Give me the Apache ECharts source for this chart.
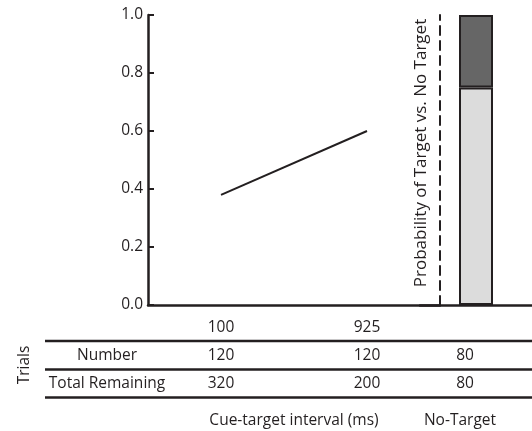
<!DOCTYPE html>
<html>
<head>
<meta charset="utf-8">
<script src="https://cdn.jsdelivr.net/npm/echarts@6/dist/echarts.min.js"></script>
<style>
html,body{margin:0;padding:0;background:#fff;}
#c{width:532px;height:431px;}
</style>
</head>
<body>
<div id="c"></div>
<script>
// ---- data ----
const intervals = ['100', '925'];
const targetProb = [0.38, 0.60];
const noTargetCat = ['No-Target'];
const noTargetLower = [0.75];
const noTargetUpper = [0.25];
const rowLabels = ['Number', 'Total Remaining'];
const numberRow = ['120', '120', '80'];
const remainingRow = ['320', '200', '80'];
const yLabel = 'Probability of Target vs. No Target';
const sideLabel = 'Trials';
const xTitle = 'Cue-target interval (ms)';
const noTargetTitle = 'No-Target';

const FONT = '"Open Sans", sans-serif';
const INK = '#231f20';
const FS = 15.5;

const chart = echarts.init(document.getElementById('c'), null, {renderer: 'canvas'});

const option = {
  animation: false,
  backgroundColor: '#fff',
  textStyle: {fontFamily: FONT, color: INK},
  grid: [
    {left: 148, top: 15, width: 292, height: 290},
    {left: 420, top: 15, width: 112, height: 290}
  ],
  xAxis: [
    {
      gridIndex: 0, type: 'category', data: intervals, boundaryGap: true,
      axisLine: {lineStyle: {color: INK, width: 2.5}},
      axisTick: {inside: true, alignWithLabel: true, length: 6, lineStyle: {color: INK, width: 2}},
      axisLabel: {fontSize: FS, color: INK, margin: 15, fontFamily: FONT},
      splitLine: {show: false}
    },
    {
      gridIndex: 1, type: 'category', data: noTargetCat, boundaryGap: true,
      axisLine: {lineStyle: {color: INK, width: 2.5}},
      axisTick: {show: false},
      axisLabel: {show: false},
      splitLine: {show: false}
    }
  ],
  yAxis: [
    {
      gridIndex: 0, type: 'value', min: 0, max: 1, interval: 0.2,
      axisLine: {show: true, lineStyle: {color: INK, width: 2.5}},
      axisTick: {show: true, inside: true, length: 6, lineStyle: {color: INK, width: 2}},
      axisLabel: {fontSize: FS, color: INK, margin: 5, fontFamily: FONT,
        formatter: v => v.toFixed(1)},
      splitLine: {show: false}
    },
    {
      gridIndex: 0, type: 'value', min: 0, max: 1, position: 'right',
      axisLine: {show: true, lineStyle: {color: INK, width: 2, type: [9, 6]}},
      axisTick: {show: false}, axisLabel: {show: false}, splitLine: {show: false}
    },
    {
      gridIndex: 1, type: 'value', min: 0, max: 1, show: false
    }
  ],
  series: [
    {
      type: 'line', xAxisIndex: 0, yAxisIndex: 0, data: targetProb,
      symbol: 'none', lineStyle: {color: INK, width: 2}, silent: true
    },
    {
      type: 'bar', xAxisIndex: 1, yAxisIndex: 2, stack: 'p', data: noTargetLower,
      barWidth: 34, itemStyle: {color: '#dcdcdc', borderColor: INK, borderWidth: 2}
    },
    {
      type: 'bar', xAxisIndex: 1, yAxisIndex: 2, stack: 'p', data: noTargetUpper,
      barWidth: 34, itemStyle: {color: '#666666', borderColor: INK, borderWidth: 2}
    }
  ]
};
chart.setOption(option);

// ---- table & labels (positions derived from the axes) ----
const colX = [
  chart.convertToPixel({xAxisIndex: 0}, intervals[0]),
  chart.convertToPixel({xAxisIndex: 0}, intervals[1]),
  chart.convertToPixel({xAxisIndex: 1}, noTargetCat[0]) - 11
];
const tableLeft = 45, tableRight = 532;
const lineYs = [341, 369.5, 397.5];
const rowYs = [356, 384];
const bottomY = 421;
const labelColX = 107;

const txt = (s, x, y, extra) => Object.assign({type: 'text', x: x, y: y,
  style: {text: s, font: FS + 'px ' + FONT, fill: INK, textAlign: 'center', textVerticalAlign: 'middle'}}, extra || {});

const g = [];
lineYs.forEach(y => g.push({
  type: 'line', shape: {x1: tableLeft, y1: y, x2: tableRight, y2: y},
  style: {stroke: INK, lineWidth: 2.5}
}));
const rows = [numberRow, remainingRow];
rowLabels.forEach((lab, i) => {
  g.push(txt(lab, labelColX, rowYs[i]));
  rows[i].forEach((v, j) => g.push(txt(v, colX[j], rowYs[i])));
});
g.push(txt(xTitle, (colX[0] + colX[1]) / 2, bottomY));
g.push(txt(noTargetTitle, colX[2] - 5, bottomY));
g.push(txt(sideLabel, 25, 365, {rotation: Math.PI / 2}));
const rot = txt(yLabel, 421, 153, {rotation: Math.PI / 2});
rot.style.font = '17px ' + FONT;
g.push(rot);

chart.setOption({graphic: g});
</script>
</body>
</html>
